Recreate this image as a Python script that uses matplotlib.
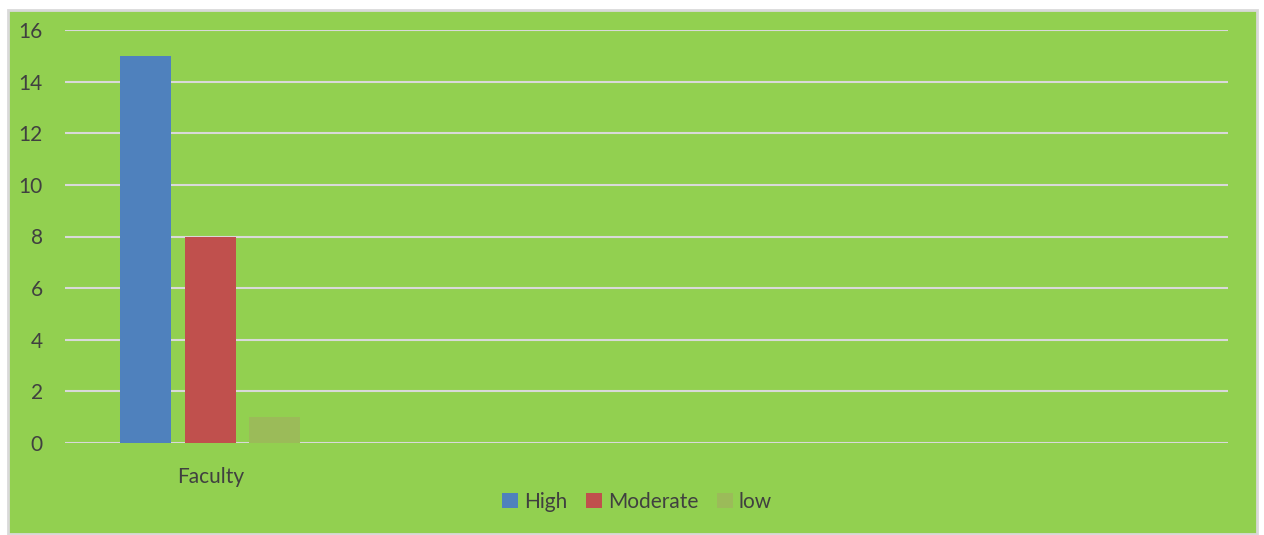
import numpy as np
import matplotlib.pyplot as plt
from matplotlib.patches import Rectangle

# data
categories = ["Faculty", "", "", ""]
series = ["High", "Moderate", "low"]
values = {"High": [15], "Moderate": [8], "low": [1]}
colors = ["#4F81BD", "#C0504D", "#9BBB59"]

BG = "#92D050"
GRID = "#D9D9D9"
TXT = "#404040"
plt.rcParams['font.family'] = ['Lato', 'DejaVu Sans']

fig = plt.figure(figsize=(12.64, 5.35), dpi=100)
fig.patches.append(Rectangle((8 / 1264, 1 - 534 / 535), 1249 / 1264, 524 / 535,
                             transform=fig.transFigure, facecolor=BG,
                             edgecolor="#D9D9D9", linewidth=2, zorder=-5))

ax = fig.add_axes([65 / 1264, 1 - 443 / 535, 1163 / 1264, 413 / 535])
ax.patch.set_alpha(0)

width = 0.175
offsets = [-0.222, 0, 0.222]
x = np.arange(len(values["High"]))
for s, off, c in zip(series, offsets, colors):
    ax.bar(x + off, values[s], width, color=c, label=s, zorder=3)

ax.set_xlim(-0.5, len(categories) - 0.5)
ax.set_ylim(0, 16)
ax.set_yticks(np.arange(0, 17, 2))
ax.set_xticks([0])
ax.set_xticklabels([categories[0]])
ax.yaxis.grid(True, color=GRID, linewidth=1.5, zorder=1)
ax.set_axisbelow(True)
for sp in ax.spines.values():
    sp.set_visible(False)
ax.tick_params(axis="both", length=0, labelsize=15, labelcolor=TXT)
ax.tick_params(axis="y", pad=16)
ax.tick_params(axis="x", pad=17)

leg = fig.legend(loc="center", bbox_to_anchor=(637 / 1264, 1 - 502 / 535), ncol=3,
                 frameon=False, fontsize=15, handlelength=0.75, handleheight=0.75,
                 handletextpad=0.3, columnspacing=0.9, labelcolor=TXT)

fig.savefig("out.png", dpi=100, facecolor="white")
